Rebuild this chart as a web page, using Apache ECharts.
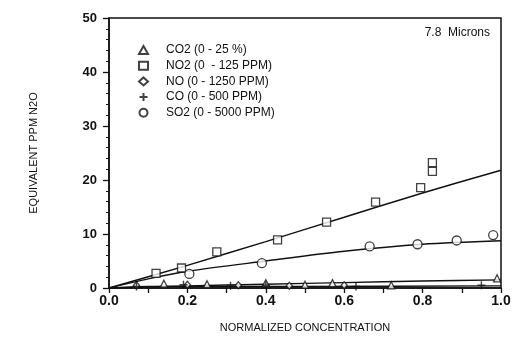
<!DOCTYPE html>
<html><head><meta charset="utf-8">
<script src="https://cdn.jsdelivr.net/npm/echarts@6/dist/echarts.min.js"></script>
<style>html,body{margin:0;padding:0;background:#fff}#c{width:519px;height:343px}</style>
</head><body><div id="c"></div>
<script>
const legendNames = ['CO2 (0 - 25 %)', 'NO2 (0  - 125 PPM)', 'NO (0 - 1250 PPM)', 'CO (0 - 500 PPM)', 'SO2 (0 - 5000 PPM)'];
const xTicks = ['0.0', '0.2', '0.4', '0.6', '0.8', '1.0'];
const yTicks = ['0', '10', '20', '30', '40', '50'];
// measured points [normalized concentration, equivalent ppm N2O]
const co2Pts = [[0.14,0.8],[0.25,0.7],[0.4,0.9],[0.5,0.6],[0.57,0.9],[0.72,0.5],[0.99,1.8]];
const no2Pts = [[0.12,2.7],[0.185,3.7],[0.275,6.7],[0.43,8.9],[0.555,12.2],[0.68,15.9],[0.795,18.6],[0.825,21.6],[0.825,23.2]];
const noPts  = [[0.07,0.5],[0.2,0.6],[0.33,0.5],[0.46,0.4],[0.6,0.5]];
const coPts  = [[0.07,0.3],[0.19,0.6],[0.31,0.4],[0.4,0.5],[0.63,0.3],[0.95,0.5]];
const so2Pts = [[0.205,2.6],[0.39,4.6],[0.665,7.7],[0.787,8.1],[0.887,8.8],[0.98,9.8]];
// fitted curves
const no2Fit = [[0,0],[0.2,4.2],[0.4,8.6],[0.6,13.1],[0.8,17.6],[1.0,21.8]];
const so2Fit = [[0,0],[0.1,1.7],[0.2,3.1],[0.4,5.0],[0.6,6.8],[0.8,8.1],[1.0,8.75]];
const co2Fit = [[0,0],[0.2,0.4],[0.4,0.7],[0.6,1.0],[0.8,1.3],[1.0,1.5]];
const lowFit = [[0,0],[0.1,0.3],[0.5,0.3],[1.0,0.4]];

const FONT = 'Liberation Sans, Arial, sans-serif';
const plusPath = 'path://M5,0L5,10M0,5L10,5';
const mk = {color:'#fff', borderColor:'#111', borderWidth:1.3};
function fit(d){return {type:'line', data:d, symbol:'none', smooth:0.3, silent:true,
  lineStyle:{color:'#111', width:1.4}, z:2};}
const chart = echarts.init(document.getElementById('c'), null, {renderer:'canvas'});
chart.setOption({
  animation:false,
  backgroundColor:'#fff',
  title:{text:'7.8  Microns', right:24, top:22, textStyle:{fontFamily:FONT, fontSize:12, fontWeight:'normal', color:'#111'}},
  grid:{left:109, right:18, top:18, bottom:55, show:true, borderColor:'#111', borderWidth:1.5, backgroundColor:'transparent'},
  legend:{data:legendNames, orient:'vertical', left:132, top:38, itemWidth:9, itemHeight:8, itemGap:1.7,
    textStyle:{fontFamily:FONT, fontSize:12, color:'#111', lineHeight:14, padding:[0,0,0,13]}},
  xAxis:{type:'value', min:0, max:1, interval:0.2,
    name:'NORMALIZED CONCENTRATION', nameLocation:'middle', nameGap:34,
    nameTextStyle:{fontFamily:FONT, fontSize:11, color:'#111'},
    axisLine:{lineStyle:{color:'#111', width:1.5}},
    axisTick:{length:5, lineStyle:{color:'#111', width:1.3}},
    minorTick:{show:true, splitNumber:2, length:5, lineStyle:{color:'#111', width:1.3}},
    splitLine:{show:false},
    axisLabel:{margin:6, fontFamily:FONT, fontSize:14, fontWeight:'bold', color:'#111',
      formatter:(v)=>xTicks[Math.round(v*5)]}},
  yAxis:{type:'value', min:0, max:50, interval:10,
    name:'EQUIVALENT PPM N2O', nameLocation:'middle', nameGap:70,
    nameTextStyle:{fontFamily:FONT, fontSize:11, color:'#111'},
    axisLine:{show:true, lineStyle:{color:'#111', width:1.5}},
    axisTick:{show:true, length:6, lineStyle:{color:'#111', width:1.3}},
    minorTick:{show:true, splitNumber:5, length:3, lineStyle:{color:'#111', width:1}},
    splitLine:{show:false},
    axisLabel:{margin:12, fontFamily:FONT, fontSize:13, fontWeight:'bold', color:'#111',
      formatter:(v)=>yTicks[Math.round(v/10)]}},
  series:[
    fit(no2Fit), fit(so2Fit), fit(co2Fit), fit(lowFit),
    {name:legendNames[0], type:'scatter', data:co2Pts, symbol:'triangle', symbolSize:7, itemStyle:mk, z:3},
    {name:legendNames[1], type:'scatter', data:no2Pts, symbol:'rect', symbolSize:8, itemStyle:mk, z:3},
    {name:legendNames[2], type:'scatter', data:noPts, symbol:'diamond', symbolSize:[6,7], itemStyle:mk, z:3},
    {name:legendNames[3], type:'scatter', data:coPts, symbol:plusPath, symbolSize:8, itemStyle:{color:'none', borderColor:'#111', borderWidth:1.4}, z:3},
    {name:legendNames[4], type:'scatter', data:so2Pts, symbol:'circle', symbolSize:9, itemStyle:mk, z:3}
  ]
});
</script></body></html>
